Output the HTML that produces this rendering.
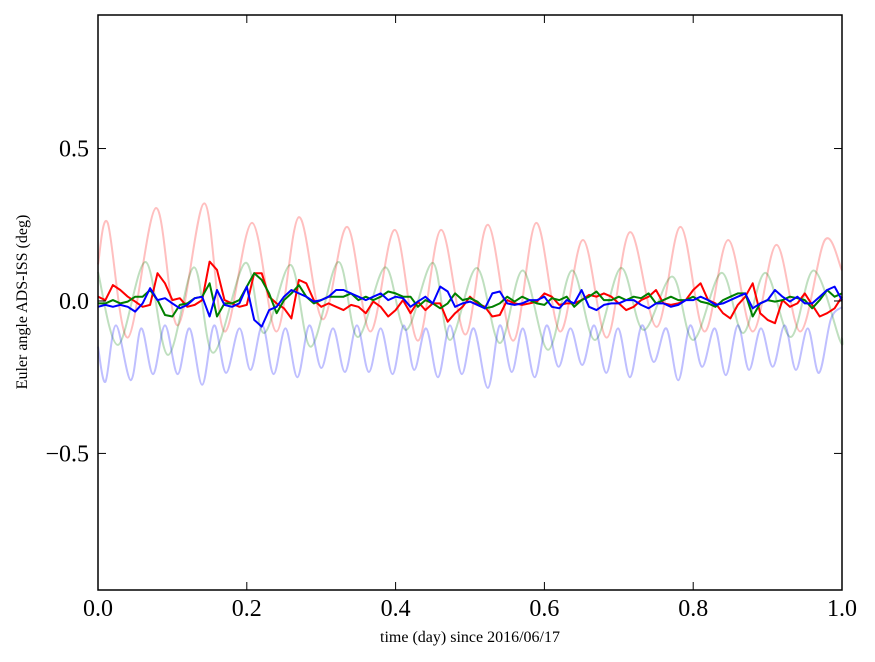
<!DOCTYPE html>
<html><head><meta charset="utf-8"><style>
body{margin:0;background:#fff;}
svg{display:block;font-family:"Liberation Serif",serif;}
</style></head><body>
<svg id="chart" width="875" height="662" viewBox="0 0 875 662" xmlns="http://www.w3.org/2000/svg">
<rect x="0" y="0" width="875" height="662" fill="#fff"/>
<g id="series"></g>
<rect x="98" y="15" width="744" height="575" fill="none" stroke="#000" stroke-width="1.5"/>
<g id="ticks"></g>
<text x="470" y="642" font-size="16" text-anchor="middle">time (day) since 2016/06/17</text>
<text transform="translate(27,302) rotate(-90)" font-size="16" text-anchor="middle">Euler angle ADS-ISS (deg)</text>
</svg>
<script>
// faint series: extrema (time in days, value in deg)
const pinkT=[0,0.013,0.04,0.078,0.107,0.143,0.17,0.207,0.24,0.27,0.302,0.335,0.366,0.399,0.43,0.461,0.494,0.524,0.558,0.589,0.621,0.652,0.684,0.715,0.751,0.783,0.815,0.847,0.88,0.912,0.944,0.977,1.0];
const pinkV=[0.12,0.256,-0.12,0.305,-0.08,0.32,-0.1,0.256,-0.1,0.275,-0.06,0.243,-0.1,0.233,-0.13,0.233,-0.11,0.25,-0.13,0.256,-0.1,0.2,-0.12,0.226,-0.085,0.243,-0.1,0.2,-0.1,0.184,-0.1,0.2,0.1];
const greenFT=[0,0.027,0.064,0.094,0.129,0.155,0.198,0.223,0.259,0.286,0.323,0.349,0.386,0.414,0.45,0.473,0.509,0.54,0.571,0.605,0.637,0.668,0.703,0.733,0.772,0.8,0.838,0.867,0.897,0.931,0.962,0.997,1.0];
const greenFV=[0.095,-0.144,0.128,-0.177,0.11,-0.17,0.125,-0.105,0.118,-0.15,0.128,-0.118,0.11,-0.095,0.125,-0.128,0.108,-0.138,0.1,-0.16,0.1,-0.128,0.108,-0.095,0.08,-0.128,0.092,-0.105,0.092,-0.118,0.1,-0.128,-0.12];
const blueFT=[0,0.01,0.024,0.044,0.058,0.074,0.09,0.107,0.123,0.14,0.156,0.172,0.19,0.205,0.221,0.236,0.252,0.268,0.284,0.3,0.316,0.332,0.348,0.364,0.38,0.396,0.411,0.425,0.441,0.457,0.473,0.489,0.505,0.524,0.54,0.556,0.571,0.587,0.603,0.619,0.635,0.651,0.667,0.683,0.699,0.715,0.731,0.747,0.764,0.78,0.796,0.812,0.829,0.844,0.86,0.875,0.891,0.907,0.923,0.938,0.954,0.969,0.985,1.0];
const blueFV=[-0.15,-0.265,-0.08,-0.26,-0.09,-0.24,-0.08,-0.24,-0.09,-0.275,-0.08,-0.236,-0.09,-0.226,-0.08,-0.24,-0.09,-0.25,-0.08,-0.22,-0.09,-0.233,-0.08,-0.233,-0.09,-0.24,-0.08,-0.226,-0.09,-0.25,-0.08,-0.24,-0.09,-0.285,-0.08,-0.233,-0.09,-0.25,-0.08,-0.216,-0.09,-0.21,-0.08,-0.236,-0.09,-0.25,-0.08,-0.2,-0.09,-0.26,-0.08,-0.216,-0.09,-0.243,-0.08,-0.226,-0.09,-0.216,-0.08,-0.226,-0.09,-0.236,-0.06,-0.02];
// bold series sampled every 0.01 day from 0 to 1
const redV=[0.014,0.003,0.052,0.036,0.014,-0.002,-0.019,-0.013,0.091,0.058,0.003,0.009,-0.019,-0.013,0.003,0.129,0.102,0.003,-0.008,-0.019,-0.013,0.091,0.091,0.014,-0.008,-0.024,-0.057,0.069,0.058,0.003,-0.019,-0.008,-0.019,-0.03,-0.013,-0.019,-0.04,-0.002,-0.019,-0.051,-0.03,0.003,-0.04,-0.002,-0.03,-0.008,-0.008,-0.068,-0.04,-0.019,0.014,
-0.008,-0.019,-0.051,-0.046,0.003,-0.008,-0.013,-0.008,-0.002,0.025,0.014,-0.013,-0.008,-0.008,0.003,0.02,0.014,0.025,0.014,-0.008,-0.03,-0.019,0.003,0.014,0.036,-0.008,-0.013,-0.008,0.003,0.036,0.058,0.003,-0.008,-0.04,-0.057,-0.013,0.014,0.058,-0.04,-0.062,-0.073,0.003,-0.019,-0.008,0.025,-0.013,-0.051,-0.04,-0.024,0.014];
const greenV=[-0.008,-0.008,0.003,-0.008,-0.002,0.014,0.014,0.036,0.003,-0.046,-0.051,-0.013,-0.008,0.009,0.014,0.058,-0.051,-0.008,-0.008,0.003,0.047,0.091,0.069,0.025,-0.04,0.003,0.025,0.052,0.014,-0.008,0.003,0.014,0.014,0.014,0.025,0.003,0.014,0.003,0.014,0.031,0.025,0.014,0.014,-0.019,0.003,-0.008,-0.024,-0.008,0.025,0.003,0.009,
-0.002,-0.024,-0.019,-0.008,0.014,-0.002,0.014,0.003,-0.008,-0.013,0.009,0.003,0.014,-0.019,0.003,0.014,0.031,0.003,0.003,0.014,0.003,0.014,0.009,0.025,-0.008,0.003,0.014,0.003,0.003,0.014,-0.002,-0.008,-0.019,0.003,0.014,0.025,0.025,-0.051,-0.008,0.003,-0.002,0.003,0.014,0.009,0.003,-0.024,0.003,0.036,0.014,0.025];
const blueV=[-0.019,-0.013,-0.019,-0.013,-0.019,-0.035,-0.008,0.042,0.003,0.009,-0.008,-0.024,-0.013,0.009,0.014,-0.051,0.036,-0.013,-0.019,-0.008,0.047,-0.062,-0.084,-0.03,-0.019,0.014,0.036,0.025,0.014,-0.002,0.003,0.014,0.036,0.036,0.025,0.014,0.003,0.014,0.025,0.003,0.014,0.009,-0.019,-0.002,0.014,-0.008,0.047,0.031,-0.019,-0.008,-0.002,
-0.013,-0.024,0.025,0.031,-0.008,-0.013,-0.008,0.003,0.003,0.014,-0.019,-0.024,0.003,-0.008,0.036,-0.019,-0.03,-0.013,-0.008,-0.008,0.003,0.003,-0.013,-0.024,-0.008,-0.008,-0.019,-0.013,0.003,0.003,0.014,0.003,-0.013,-0.008,0.003,0.014,0.025,-0.024,-0.008,0.003,0.036,0.014,-0.002,0.014,-0.008,-0.008,0.014,0.036,0.047,0.003];
const xTicks=[0,0.2,0.4,0.6,0.8,1.0];
const xTickLabels=["0.0","0.2","0.4","0.6","0.8","1.0"];
const yTicks=[-0.5,0,0.5];
const yTickLabels=["\u22120.5","0.0","0.5"];

const X0=98,X1=842,Y0=590,Y1=15,YMIN=-0.948,YMAX=0.938;
function xs(t){return X0+(X1-X0)*t;}
function ys(v){return Y0-(Y0-Y1)*(v-YMIN)/(YMAX-YMIN);}
const NS="http://www.w3.org/2000/svg";
const g=document.getElementById('series');
function smoothPath(pts){
  let d="M"+pts[0][0].toFixed(1)+","+pts[0][1].toFixed(1);
  for(let i=0;i<pts.length-1;i++){
    const p0=pts[Math.max(0,i-1)],p1=pts[i],p2=pts[i+1],p3=pts[Math.min(pts.length-1,i+2)];
    const c1=[p1[0]+(p2[0]-p0[0])/6,p1[1]+(p2[1]-p0[1])/6];
    const c2=[p2[0]-(p3[0]-p1[0])/6,p2[1]-(p3[1]-p1[1])/6];
    d+="C"+c1[0].toFixed(1)+","+c1[1].toFixed(1)+" "+c2[0].toFixed(1)+","+c2[1].toFixed(1)+" "+p2[0].toFixed(1)+","+p2[1].toFixed(1);
  }
  return d;
}
function addLine(ts,vs,color,op,w,name,smooth){
  const pts=vs.map((v,i)=>[xs(ts[i]),ys(v)]);
  const p=document.createElementNS(NS,'path');
  p.setAttribute('d',smooth?smoothPath(pts):"M"+pts.map(q=>q[0].toFixed(1)+","+q[1].toFixed(1)).join("L"));
  p.setAttribute('fill','none');p.setAttribute('stroke',color);
  p.setAttribute('stroke-opacity',op);p.setAttribute('stroke-width',w);
  p.setAttribute('stroke-linejoin','round');
  
  
  g.appendChild(p);
}
const tStep=redV.map((_,i)=>i/(redV.length-1));
addLine(pinkT,pinkV,'#ff0000',0.25,2,'faint-red-series',true);
addLine(greenFT,greenFV,'#008000',0.25,2,'faint-green-series',true);
addLine(blueFT,blueFV,'#0000ff',0.25,2,'faint-blue-series',true);
addLine(tStep,redV,'#ff0000',1,2,'red-series',false);
addLine(greenV.map((_,i)=>i/(greenV.length-1)),greenV,'#008000',1,2,'green-series',false);
addLine(blueV.map((_,i)=>i/(blueV.length-1)),blueV,'#0000ff',1,2,'blue-series',false);

const tk=document.getElementById('ticks');
xTicks.forEach((t,i)=>{
  const x=xs(t);
  [[Y0,Y0-8],[Y1,Y1+8]].forEach(a=>{
    const l=document.createElementNS(NS,'line');
    l.setAttribute('x1',x);l.setAttribute('x2',x);l.setAttribute('y1',a[0]);l.setAttribute('y2',a[1]);
    l.setAttribute('stroke','#000');
    
    
    tk.appendChild(l);
  });
  const tx=document.createElementNS(NS,'text');
  tx.setAttribute('x',x);tx.setAttribute('y',616);tx.setAttribute('font-size','24');tx.setAttribute('text-anchor','middle');
  tx.textContent=xTickLabels[i];
  
  
  tk.appendChild(tx);
});
yTicks.forEach((v,i)=>{
  const y=ys(v);
  [[X0,X0+8],[X1,X1-8]].forEach(a=>{
    const l=document.createElementNS(NS,'line');
    l.setAttribute('x1',a[0]);l.setAttribute('x2',a[1]);l.setAttribute('y1',y);l.setAttribute('y2',y);
    l.setAttribute('stroke','#000');
    
    
    tk.appendChild(l);
  });
  const tx=document.createElementNS(NS,'text');
  tx.setAttribute('x',89);tx.setAttribute('y',y+8);tx.setAttribute('font-size','24');tx.setAttribute('text-anchor','end');
  tx.textContent=yTickLabels[i];
  
  
  tk.appendChild(tx);
});
</script>
</body></html>
